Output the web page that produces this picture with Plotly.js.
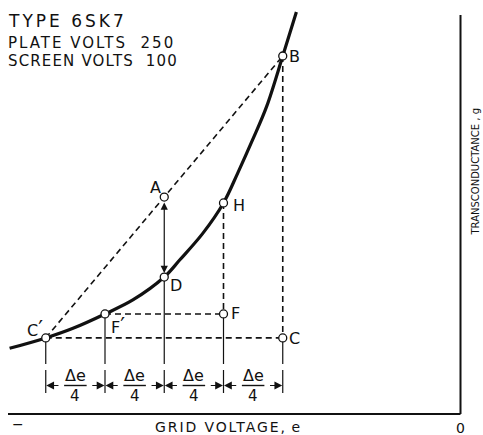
<!DOCTYPE html>
<html><head><meta charset="utf-8">
<script src="https://cdn.plot.ly/plotly-3.0.1.min.js"></script>
<style>
html,body{margin:0;padding:0;background:#fff;}
#chart{width:483px;height:435px;}
</style>
</head><body><div id="chart"></div>
<script>
// Grid voltage e (1 unit = Δe/4) and transconductance g
const curveE = [-7.61, -7.0, -6.54, -6.0, -5.53, -5.0, -4.74, -4.35, -4.0, -3.76, -3.51, -3.27, -3.0, -2.77];
const curveG = [367, 425, 479, 559, 637, 765, 860, 1009, 1179, 1346, 1531, 1720, 2000, 2246];

const pointNames = ["C′", "F′", "D", "A", "H", "F", "B", "C"];
const pointE = [-7, -6, -5, -5, -4, -4, -3, -3];
const pointG = [425, 559, 765, 1212, 1179, 559, 2000, 425];

const stepEdges = [-7, -6, -5, -4, -3];
const stepTop = "Δe";
const stepBottom = "4";
const infoLines = ["TYPE 6SK7", "PLATE VOLTS\u00a0\u00a0250", "SCREEN VOLTS\u00a0\u00a0100"];
const xTitle = "GRID VOLTAGE,e";
const yTitle = "TRANSCONDUCTANCE , g";
const xEndLabels = ["−", "0"];

// ---- helpers ----
const P = {};
pointNames.forEach((n, i) => P[n] = {e: pointE[i], g: pointG[i]});
const GX = [-7.7722, 0.3797];   // axis ranges
const GY = [-117.32, 2312.85];
const pxPerG = 435 / (GY[1] - GY[0]);
const gAtPx = py => GY[1] - py / pxPerG;      // page px -> g (for label placement)
const eAtPx = px => GX[0] + px * (GX[1] - GX[0]) / 483;

const black = "#111";
const dashStyle = {color: black, width: 1.6, dash: "6px,4px"};

function seg(a, b, line) {
  return {x: [a.e, b.e], y: [a.g, b.g], mode: "lines", line: line, hoverinfo: "skip", showlegend: false};
}

const traces = [];
traces.push(seg(P["C′"], P["B"], dashStyle));
traces.push(seg(P["B"], P["C"], dashStyle));
traces.push(seg(P["H"], P["F"], dashStyle));
traces.push(seg(P["F′"], P["F"], dashStyle));
traces.push(seg(P["C′"], P["C"], dashStyle));

// thin solid drop lines + extension ticks
const dropTops = [P["C′"].g, P["F′"].g, P["D"].g, P["F"].g, P["C"].g];
const gapTop = gAtPx(364), tickTop = gAtPx(370), tickBot = gAtPx(393);
const vx = [], vy = [];
stepEdges.forEach((e, i) => {
  vx.push(e, e, null, e, e, null);
  vy.push(dropTops[i], gapTop, null, tickTop, tickBot, null);
});
traces.push({x: vx, y: vy, mode: "lines", line: {color: black, width: 1.2}, hoverinfo: "skip", showlegend: false});

// the characteristic curve
traces.push({x: curveE, y: curveG, mode: "lines", line: {color: black, width: 3.2, shape: "spline", smoothing: 1},
  hoverinfo: "skip", showlegend: false});

// points
traces.push({x: pointE, y: pointG, mode: "markers",
  marker: {symbol: "circle", size: 8, color: "#fff", line: {color: black, width: 1.3}},
  hoverinfo: "skip", showlegend: false});

const font = "DejaVu Sans, Verdana, sans-serif";
const annotations = [];

// info block
const infoY = [21, 43.5, 61];
const infoSize = [17, 15, 15];
const infoSpacing = [3.0, 2.0, 1.15];
infoLines.forEach((t, i) => annotations.push({
  xref: "paper", yref: "paper", x: 6 / 483, y: 1 - infoY[i] / 435, xanchor: "left", yanchor: "middle",
  text: '<span style="letter-spacing:' + infoSpacing[i] + 'px">' + t + '</span>', showarrow: false,
  font: {family: font, size: infoSize[i], color: black}
}));

// axis titles
annotations.push({xref: "paper", yref: "paper", x: 228 / 483, y: 1 - 427 / 435, xanchor: "center", yanchor: "middle",
  text: '<span style="letter-spacing:1.9px">' + xTitle.replace(",", ",\u2009") + '</span>', showarrow: false,
  font: {family: font, size: 14, color: black}});
annotations.push({xref: "paper", yref: "paper", x: 475 / 483, y: 1 - 171.5 / 435, xanchor: "center", yanchor: "middle",
  text: yTitle, textangle: -90, showarrow: false, font: {family: font, size: 10, color: black}});
annotations.push({xref: "paper", yref: "paper", x: 18 / 483, y: 1 - 424 / 435, xanchor: "center", yanchor: "middle",
  text: xEndLabels[0], showarrow: false, font: {family: font, size: 14, color: black}});
annotations.push({x: 0, y: gAtPx(428), xanchor: "center", yanchor: "middle",
  text: xEndLabels[1], showarrow: false, font: {family: font, size: 14, color: black}});

// point labels (prime drawn a little larger, as in the original lettering)
const labelShift = {"C′": [-11, 9], "F′": [13, -12], "D": [12, -8], "A": [-9, 10], "H": [15, -3], "F": [12, 0], "B": [12, 0], "C": [12, -1]};
pointNames.forEach(n => annotations.push({
  x: P[n].e, y: P[n].g, xshift: labelShift[n][0], yshift: labelShift[n][1], showarrow: false,
  text: n.replace("′", '<span style="font-size:21px">′</span>'), font: {family: font, size: 16, color: black}
}));

// double arrow between A and D
annotations.push({x: P["D"].e, y: P["D"].g, ax: P["A"].e, ay: P["A"].g, axref: "x", ayref: "y",
  text: "", showarrow: true, arrowside: "end+start", arrowhead: 2, startarrowhead: 2, arrowsize: 1.2, startarrowsize: 1.2,
  arrowwidth: 1.2, arrowcolor: black, standoff: 4, startstandoff: 4});

// dimension arrows and Δe/4 labels
const dimG = gAtPx(385.5);
const shapes = [];
for (let i = 0; i < stepEdges.length - 1; i++) {
  const a = stepEdges[i], b = stepEdges[i + 1], mid = (a + b) / 2;
  annotations.push({x: a, y: dimG, ax: a + 0.24, ay: dimG, axref: "x", ayref: "y", text: "", showarrow: true,
    arrowhead: 2, arrowsize: 1.3, arrowwidth: 1.2, arrowcolor: black, standoff: 0.5});
  annotations.push({x: b, y: dimG, ax: b - 0.24, ay: dimG, axref: "x", ayref: "y", text: "", showarrow: true,
    arrowhead: 2, arrowsize: 1.3, arrowwidth: 1.2, arrowcolor: black, standoff: 0.5});
  annotations.push({x: mid, y: gAtPx(375), showarrow: false, text: stepTop, font: {family: font, size: 16, color: black}});
  annotations.push({x: mid, y: gAtPx(396), showarrow: false, text: stepBottom, font: {family: font, size: 15, color: black}});
  shapes.push({type: "line", x0: mid - 0.19, x1: mid + 0.19, y0: dimG, y1: dimG, line: {color: black, width: 1.4}});
}

// axes frame (bottom and right)
shapes.push({type: "line", x0: eAtPx(8), x1: 0, y0: 0, y1: 0, line: {color: black, width: 2}});
shapes.push({type: "line", x0: 0, x1: 0, y0: 0, y1: gAtPx(15), line: {color: black, width: 2}});

const layout = {
  width: 483, height: 435, autosize: false,
  margin: {l: 0, r: 0, t: 0, b: 0, pad: 0},
  paper_bgcolor: "#fff", plot_bgcolor: "#fff",
  xaxis: {range: GX, visible: false, fixedrange: true},
  yaxis: {range: GY, visible: false, fixedrange: true},
  showlegend: false,
  annotations: annotations, shapes: shapes
};
Plotly.newPlot("chart", traces, layout, {displayModeBar: false, staticPlot: true});
</script>
</body></html>
